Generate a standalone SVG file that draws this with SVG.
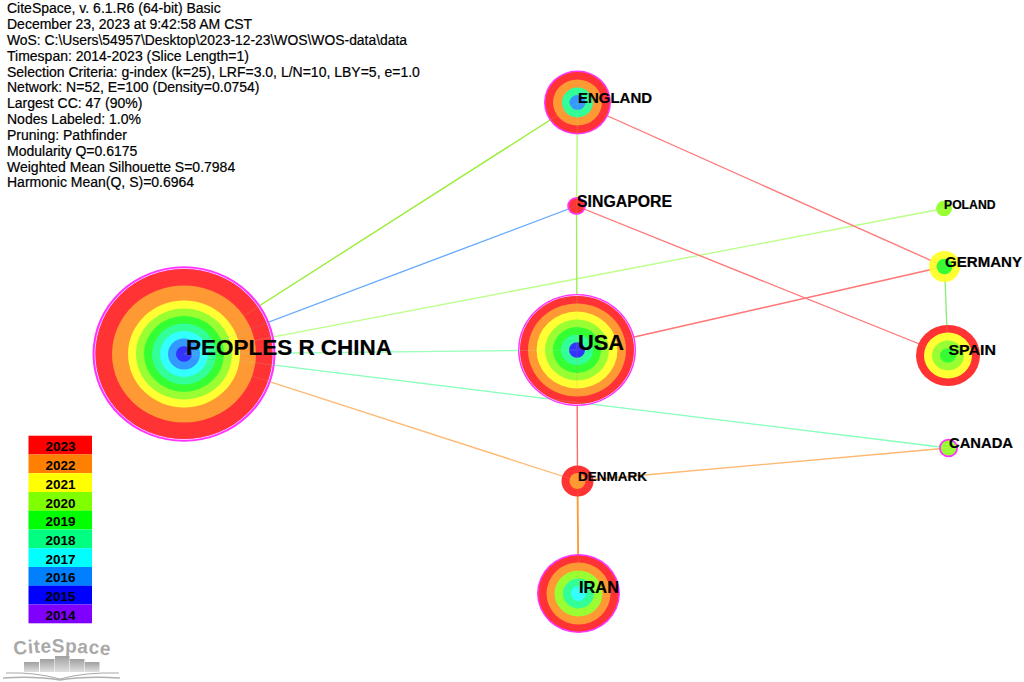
<svg xmlns="http://www.w3.org/2000/svg" xmlns:xlink="http://www.w3.org/1999/xlink" width="1024" height="682" viewBox="0 0 1024 682">
<style>
text{font-family:"Liberation Sans",Arial,sans-serif;fill:#000}
.h{font-size:14px;stroke:#000;stroke-width:.2px}
.l{font-weight:bold;stroke:#000;stroke-width:.2px}
.y{font-weight:bold;font-size:13.5px;text-anchor:middle}
.m{fill:#ff33ff}.w{fill:none;stroke:#fff;stroke-width:.7}
.r0{fill:#ff3333}.r1{fill:#ff9933}.r2{fill:#ffff33}.r3{fill:#99ff33}.r4{fill:#33ff33}.r5{fill:#33ff99}.r6{fill:#33ffff}.r7{fill:#3399ff}.r8{fill:#3333ff}
#edges line{stroke-width:1.3;fill:none}
</style>
<defs>
<linearGradient id="bar" x1="0" y1="0" x2="0" y2="1"><stop offset="0" stop-color="#a0a0a0"/><stop offset="1" stop-color="#e0e0e0"/></linearGradient>
<path id="arc" d="M14 655Q62 649 112 656"/>
</defs>
<rect width="1024" height="682" fill="#fff"/>
<g id="header">
<text class="h" x="7" y="13">CiteSpace, v. 6.1.R6 (64-bit) Basic</text>
<text class="h" x="7" y="28.8">December 23, 2023 at 9:42:58 AM CST</text>
<text class="h" x="7" y="44.7" textLength="400" lengthAdjust="spacingAndGlyphs">WoS: C:\Users\54957\Desktop\2023-12-23\WOS\WOS-data\data</text>
<text class="h" x="7" y="60.6">Timespan: 2014-2023 (Slice Length=1)</text>
<text class="h" x="7" y="76.5">Selection Criteria: g-index (k=25), LRF=3.0, L/N=10, LBY=5, e=1.0</text>
<text class="h" x="7" y="92.4">Network: N=52, E=100 (Density=0.0754)</text>
<text class="h" x="7" y="108.3">Largest CC: 47 (90%)</text>
<text class="h" x="7" y="124.1">Nodes Labeled: 1.0%</text>
<text class="h" x="7" y="140">Pruning: Pathfinder</text>
<text class="h" x="7" y="155.8">Modularity Q=0.6175</text>
<text class="h" x="7" y="171.6">Weighted Mean Silhouette S=0.7984</text>
<text class="h" x="7" y="187.4">Harmonic Mean(Q, S)=0.6964</text>
</g>
<g id="edges">
<line x1="184" y1="354" x2="577.5" y2="102.5" stroke="#99ee33"/>
<line x1="184" y1="354" x2="576.5" y2="206" stroke="#66aaff"/>
<line x1="184" y1="354" x2="944" y2="208.5" stroke="#bbff88"/>
<line x1="184" y1="354" x2="577" y2="350" stroke="#99ffbb"/>
<line x1="184" y1="354" x2="948.5" y2="448" stroke="#88ffbb"/>
<line x1="184" y1="354" x2="577.5" y2="481" stroke="#ffb870"/>
<line x1="577.5" y1="102.5" x2="576.5" y2="206" stroke="#aaff77"/>
<line x1="576.5" y1="206" x2="577" y2="350" stroke="#99ee55"/>
<line x1="577.5" y1="102.5" x2="944.5" y2="266.5" stroke="#ff7777"/>
<line x1="576.5" y1="206" x2="948" y2="355.5" stroke="#ff7777"/>
<line x1="577" y1="350" x2="944.5" y2="266.5" stroke="#ff7777"/>
<line x1="944.5" y1="266.5" x2="948" y2="355.5" stroke="#88f077"/>
<line x1="577" y1="350" x2="577.5" y2="481" stroke="#ff6666"/>
<line x1="577.5" y1="481" x2="948.5" y2="448" stroke="#ffb870"/>
<line x1="577.5" y1="481" x2="578.5" y2="593.5" stroke="#ff9a30" style="stroke-width:1.8"/>
</g>
<g id="node-china">
<ellipse class="m" cx="184" cy="354" rx="91.5" ry="87.7"/>
<ellipse class="w" cx="184" cy="354" rx="89" ry="85.5"/>
<ellipse class="r0" cx="184" cy="354" rx="88.5" ry="85"/>
<ellipse class="r1" cx="184" cy="354" rx="72" ry="68.5"/>
<ellipse class="r2" cx="184" cy="354" rx="56" ry="53.5"/>
<ellipse class="r3" cx="184" cy="354" rx="48" ry="45.5"/>
<ellipse class="r4" cx="184" cy="354" rx="40" ry="38"/>
<ellipse class="r5" cx="184" cy="354" rx="32" ry="30.5"/>
<ellipse class="r6" cx="184" cy="354" rx="24" ry="23"/>
<ellipse class="r7" cx="184" cy="354" rx="16" ry="15.5"/>
<ellipse class="r8" cx="184" cy="354" rx="8" ry="7.7"/>
</g>
<g id="node-usa">
<ellipse class="m" cx="577" cy="350" rx="59" ry="56"/>
<ellipse class="w" cx="577" cy="350" rx="57.3" ry="54.4"/>
<ellipse class="r0" cx="577" cy="350" rx="57" ry="54"/>
<ellipse class="r1" cx="577" cy="350" rx="49" ry="46.5"/>
<ellipse class="r2" cx="577" cy="350" rx="40.5" ry="38.5"/>
<ellipse class="r3" cx="577" cy="350" rx="32" ry="30.5"/>
<ellipse class="r4" cx="577" cy="350" rx="24" ry="23"/>
<ellipse class="r5" cx="577" cy="350" rx="16" ry="15.3"/>
<ellipse class="r8" cx="577" cy="350" rx="8" ry="7.7"/>
</g>
<g id="node-england">
<ellipse class="m" cx="577.5" cy="102.5" rx="33.5" ry="32"/>
<ellipse class="r0" cx="577.5" cy="102.5" rx="32" ry="30.5"/>
<ellipse class="r1" cx="577.5" cy="102.5" rx="24.5" ry="23"/>
<ellipse class="r5" cx="577.5" cy="102.5" rx="15.5" ry="15"/>
<ellipse class="r7" cx="577.5" cy="102.5" rx="8" ry="7.5"/>
</g>
<g id="node-singapore">
<ellipse class="m" cx="576.5" cy="206" rx="9.3" ry="9"/>
<ellipse class="r0" cx="576.5" cy="206" rx="7.5" ry="7.3"/>
</g>
<g id="node-denmark">
<ellipse class="r0" cx="577.5" cy="481" rx="16" ry="15.5"/>
<ellipse class="r1" cx="577.5" cy="481" rx="8" ry="8"/>
</g>
<g id="node-iran">
<ellipse class="m" cx="578.5" cy="593.5" rx="41.5" ry="39.5"/>
<ellipse class="r0" cx="578.5" cy="593.5" rx="40" ry="38"/>
<ellipse class="r1" cx="578.5" cy="593.5" rx="32" ry="31"/>
<ellipse class="r3" cx="578.5" cy="593.5" rx="24" ry="23"/>
<ellipse class="r5" cx="578.5" cy="593.5" rx="15.5" ry="15"/>
<ellipse class="r6" cx="578.5" cy="593.5" rx="7.5" ry="7.5"/>
</g>
<g id="node-poland">
<ellipse class="r3" cx="944" cy="208.5" rx="8" ry="7.7"/>
</g>
<g id="node-germany">
<ellipse class="r2" cx="944.5" cy="266.5" rx="15.5" ry="15.5"/>
<ellipse class="r4" cx="944.5" cy="266.5" rx="8" ry="7.7"/>
</g>
<g id="node-spain">
<ellipse class="r0" cx="948" cy="355.5" rx="32" ry="30.5"/>
<ellipse class="r2" cx="948" cy="355.5" rx="24" ry="23"/>
<ellipse class="r3" cx="948" cy="355.5" rx="16" ry="15"/>
<ellipse class="r4" cx="948" cy="355.5" rx="8" ry="7.3"/>
</g>
<g id="node-canada">
<ellipse class="m" cx="948.5" cy="448" rx="9.5" ry="9.3"/>
<ellipse class="r3" cx="948.5" cy="448" rx="7.7" ry="7.5"/>
</g>
<use id="edge-tint" href="#edges" xlink:href="#edges" opacity=".13"/>
<g id="labels">
<text class="l" x="186" y="354.5" font-size="22" textLength="206" lengthAdjust="spacingAndGlyphs">PEOPLES R CHINA</text>
<text class="l" x="578" y="350" font-size="22" textLength="46" lengthAdjust="spacingAndGlyphs">USA</text>
<text class="l" x="578" y="102.7" font-size="15" textLength="74" lengthAdjust="spacingAndGlyphs">ENGLAND</text>
<text class="l" x="577" y="206.7" font-size="16" textLength="95" lengthAdjust="spacingAndGlyphs">SINGAPORE</text>
<text class="l" x="944" y="208.5" font-size="12" textLength="51.5" lengthAdjust="spacingAndGlyphs">POLAND</text>
<text class="l" x="945" y="266.7" font-size="15" textLength="77" lengthAdjust="spacingAndGlyphs">GERMANY</text>
<text class="l" x="948.5" y="354.7" font-size="15.5" textLength="47.5" lengthAdjust="spacingAndGlyphs">SPAIN</text>
<text class="l" x="949" y="447.7" font-size="14.5" textLength="64" lengthAdjust="spacingAndGlyphs">CANADA</text>
<text class="l" x="578" y="480.7" font-size="13.5" textLength="69" lengthAdjust="spacingAndGlyphs">DENMARK</text>
<text class="l" x="579" y="593.3" font-size="16.5" textLength="40" lengthAdjust="spacingAndGlyphs">IRAN</text>
</g>
<g id="legend">
<rect x="28.5" y="435.7" width="63.5" height="18.8" fill="#ff0000"/>
<rect x="28.5" y="454.5" width="63.5" height="18.8" fill="#ff8000"/>
<rect x="28.5" y="473.2" width="63.5" height="18.8" fill="#ffff00"/>
<rect x="28.5" y="492" width="63.5" height="18.8" fill="#80ff00"/>
<rect x="28.5" y="510.7" width="63.5" height="18.8" fill="#00ff00"/>
<rect x="28.5" y="529.5" width="63.5" height="18.8" fill="#00ff80"/>
<rect x="28.5" y="548.2" width="63.5" height="18.8" fill="#00ffff"/>
<rect x="28.5" y="567" width="63.5" height="18.8" fill="#0080ff"/>
<rect x="28.5" y="585.7" width="63.5" height="18.8" fill="#0000ff"/>
<rect x="28.5" y="604.5" width="63.5" height="18.8" fill="#8000ff"/>
<text class="y" x="60.5" y="451">2023</text>
<text class="y" x="60.5" y="470">2022</text>
<text class="y" x="60.5" y="488.7">2021</text>
<text class="y" x="60.5" y="507.5">2020</text>
<text class="y" x="60.5" y="526">2019</text>
<text class="y" x="60.5" y="544.8">2018</text>
<text class="y" x="60.5" y="563.6">2017</text>
<text class="y" x="60.5" y="582.4">2016</text>
<text class="y" x="60.5" y="601">2015</text>
<text class="y" x="60.5" y="619.8">2014</text>
</g>
<g id="logo">
<text font-size="19" font-weight="bold" letter-spacing=".5" style="fill:#a9a9a9"><textPath href="#arc" xlink:href="#arc">CiteSpace</textPath></text>
<rect x="24" y="662" width="15" height="10" fill="url(#bar)"/>
<rect x="40" y="659" width="14.5" height="13" fill="url(#bar)"/>
<rect x="55" y="656" width="14.5" height="16" fill="url(#bar)"/>
<rect x="70" y="659" width="14.5" height="13" fill="url(#bar)"/>
<rect x="85" y="662" width="14.5" height="10" fill="url(#bar)"/>
<path d="M6 673Q35 672 60 679Q85 672 119 673" fill="none" stroke="#a8a8a8" stroke-width="1"/>
<path d="M3 678Q35 676 60 680Q85 676 120 678" fill="none" stroke="#b0b0b0" stroke-width="1.5"/>
</g>
</svg>
